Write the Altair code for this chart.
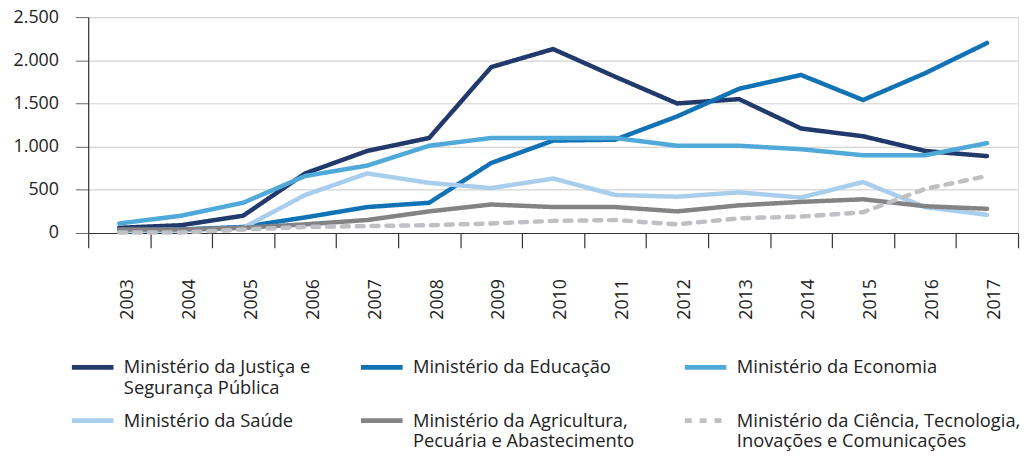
import altair as alt
import pandas as pd

years = [str(y) for y in range(2003, 2018)]

series_names = [
    "Ministério da Justiça e|Segurança Pública",
    "Ministério da Educação",
    "Ministério da Economia",
    "Ministério da Saúde",
    "Ministério da Agricultura,|Pecuária e Abastecimento",
    "Ministério da Ciência, Tecnologia,|Inovações e Comunicações",
]
colors = ["#213a6b", "#1172b6", "#50aad9", "#a9cdec", "#838386", "#bfc0c3"]
dashes = [[1, 0], [1, 0], [1, 0], [1, 0], [1, 0], [7, 8]]

justica = [60, 90, 200, 690, 950, 1100, 1920, 2130, 1810, 1500, 1550, 1210, 1120, 950, 890]
educacao = [30, 40, 70, 180, 300, 350, 810, 1070, 1080, 1350, 1670, 1830, 1540, 1850, 2200]
economia = [110, 200, 350, 660, 780, 1010, 1100, 1100, 1100, 1010, 1010, 970, 900, 900, 1040]
saude = [20, 30, 60, 440, 690, 580, 520, 630, 440, 420, 470, 410, 590, 300, 210]
agricultura = [40, 40, 60, 100, 150, 250, 330, 300, 300, 250, 320, 360, 390, 310, 280]
ciencia = [5, 5, 40, 70, 80, 90, 110, 140, 150, 100, 170, 190, 240, 510, 660]

all_values = [justica, educacao, economia, saude, agricultura, ciencia]

rows = []
for name, vals in zip(series_names, all_values):
    for y, v in zip(years, vals):
        rows.append({"ano": y, "valor": v, "serie": name})
df = pd.DataFrame(rows)

FONT = "Open Sans"
TXT = "#222222"

# every legend label becomes two lines (the one-line names get an empty second
# line), so all entries of a row keep their symbols level with the first line
label_expr = (
    "split(indexof(datum.label, '|') >= 0 ? datum.label : datum.label + '|', '|')"
)

legend = alt.Legend(
    title=None,
    orient="none",
    direction="horizontal",
    legendX=-19,
    legendY=330,
    columns=3,
    columnPadding=40,
    rowPadding=-1,
    symbolType="stroke",
    symbolSize=1764,
    symbolStrokeWidth=5,
    labelFont=FONT,
    labelFontSize=18.5,
    labelColor=TXT,
    labelOffset=8,
    labelLimit=400,
    labelBaseline="middle",
    labelExpr=label_expr,
)

chart = (
    alt.Chart(df)
    .mark_line(strokeWidth=4.5, strokeCap="round", strokeJoin="miter")
    .encode(
        x=alt.X(
            "ano:O",
            sort=years,
            scale=alt.Scale(type="band", paddingInner=0, paddingOuter=0),
            axis=alt.Axis(
                title=None,
                labelAngle=270,
                labelAlign="right",
                labelBaseline="middle",
                labelPadding=31,
                labelOffset=8,
                labelFont=FONT,
                labelFontSize=18,
                labelColor=TXT,
                tickBand="extent",
                tickSize=15,
                tickColor="#333333",
                tickWidth=1.2,
                domainColor="#333333",
                domainWidth=1.2,
                grid=False,
            ),
        ),
        y=alt.Y(
            "valor:Q",
            scale=alt.Scale(domain=[0, 2500], nice=False),
            axis=alt.Axis(
                title=None,
                values=[0, 500, 1000, 1500, 2000, 2500],
                labelExpr="replace(format(datum.value, ','), ',', '.')",
                labelFont=FONT,
                labelFontSize=18,
                labelColor=TXT,
                labelPadding=17,
                tickSize=13,
                tickColor="#666666",
                domainColor="#333333",
                domainWidth=1.2,
                grid=True,
                gridColor="#d4d4d4",
                gridWidth=1.2,
            ),
        ),
        color=alt.Color(
            "serie:N",
            sort=series_names,
            scale=alt.Scale(domain=series_names, range=colors),
            legend=legend,
        ),
        strokeDash=alt.StrokeDash(
            "serie:N",
            sort=series_names,
            scale=alt.Scale(domain=series_names, range=dashes),
            legend=legend,
        ),
    )
    .properties(
        width=939,
        height=218,
        padding={"left": 5, "top": -2, "right": 0, "bottom": 0},
    )
    .configure_view(stroke=None)
    .configure(font=FONT)
)

chart.save("out.html", embed_options={"renderer": "svg", "actions": False})
